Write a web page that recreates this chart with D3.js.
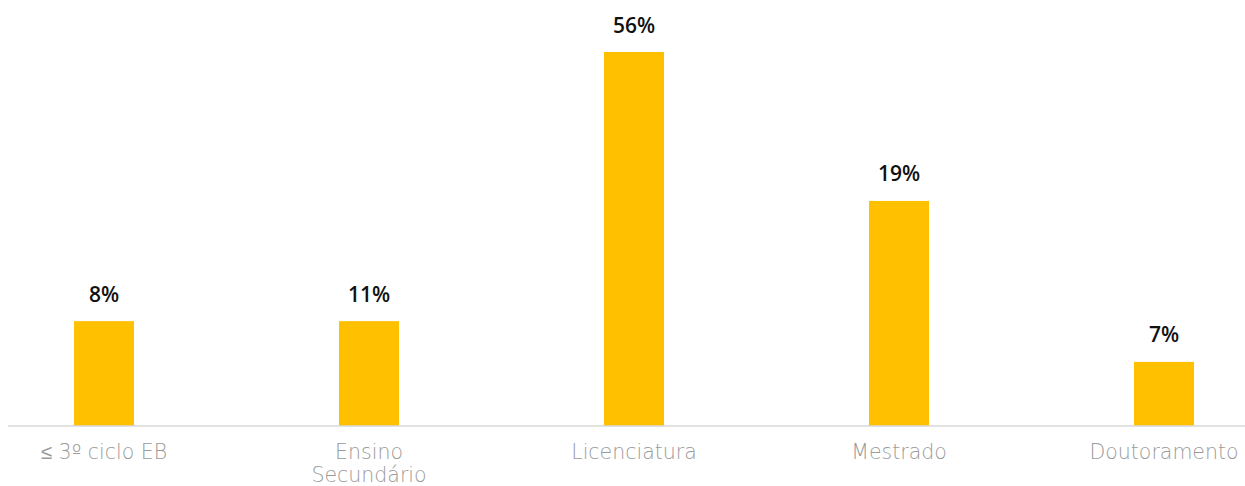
<!DOCTYPE html>
<html>
<head>
<meta charset="utf-8">
<script src="https://cdn.jsdelivr.net/npm/d3@7"></script>
<style>
  html, body { margin: 0; padding: 0; background: #ffffff; }
  svg { display: block; }
</style>
</head>
<body>
<svg id="chart" width="1245" height="486"></svg>
<script>
// Categories (x axis)
const categories = ["≤ 3º ciclo EB", "Ensino Secundário", "Licenciatura", "Mestrado", "Doutoramento"];
// Bar heights as drawn in the picture (units where the 56% bar = 56)
const barValues = [15.7, 15.7, 56, 33.7, 9.6];
// Value labels printed above the bars
const valueLabels = ["8%", "11%", "56%", "19%", "7%"];

const W = 1245, H = 486;
const baseY = 426, topY = 52;
const svg = d3.select("#chart");

const x = d3.scaleBand()
  .domain(categories)
  .range([-28.5, 1296.5])
  .paddingInner(0.7736)
  .paddingOuter(0.3868);

const y = d3.scaleLinear()
  .domain([0, d3.max(barValues)])
  .range([baseY, topY]);

const data = categories.map((c, i) => ({ c, v: barValues[i], label: valueLabels[i] }));

// Bars
svg.append("g").selectAll("rect")
  .data(data)
  .join("rect")
  .attr("x", d => x(d.c))
  .attr("y", d => y(d.v))
  .attr("width", x.bandwidth())
  .attr("height", d => baseY - y(d.v))
  .attr("fill", "#FFC000");

// Value labels
svg.append("g").selectAll("text")
  .data(data)
  .join("text")
  .attr("x", d => x(d.c) + x.bandwidth() / 2)
  .attr("y", d => y(d.v) - 19.5)
  .attr("text-anchor", "middle")
  .attr("font-family", "'Open Sans', 'Noto Sans', sans-serif")
  .attr("font-weight", 600)
  .attr("font-size", "21px")
  .attr("fill", "#111111")
  .text(d => d.label);

// X axis
const xAxis = d3.axisBottom(x).tickSize(0).tickPadding(0);
const gx = svg.append("g")
  .attr("transform", `translate(0,${baseY})`)
  .call(xAxis);
gx.select(".domain").remove();
gx.append("line")
  .attr("x1", 8).attr("x2", W)
  .attr("y1", 0).attr("y2", 0)
  .attr("stroke", "#d9d9d9")
  .attr("stroke-width", 1.5);

function wrap(sel, width) {
  sel.each(function() {
    const t = d3.select(this);
    const words = t.text().split(/\s+/);
    t.text(null);
    let line = [];
    let tspan = t.append("tspan").attr("x", 0).attr("dy", 0);
    words.forEach(w => {
      line.push(w);
      tspan.text(line.join(" "));
      if (tspan.node().getComputedTextLength() > width && line.length > 1) {
        line.pop();
        tspan.text(line.join(" "));
        line = [w];
        tspan = t.append("tspan").attr("x", 0).attr("dy", "23px").text(w);
      }
    });
  });
}

gx.selectAll(".tick text")
  .attr("font-family", "'DejaVu Sans', sans-serif")
  .attr("font-weight", 200)
  .attr("font-size", "20.5px")
  .attr("fill", "#9a9a9a")
  .attr("dy", null)
  .attr("y", 32.5)
  .call(wrap, 170);
</script>
</body>
</html>
